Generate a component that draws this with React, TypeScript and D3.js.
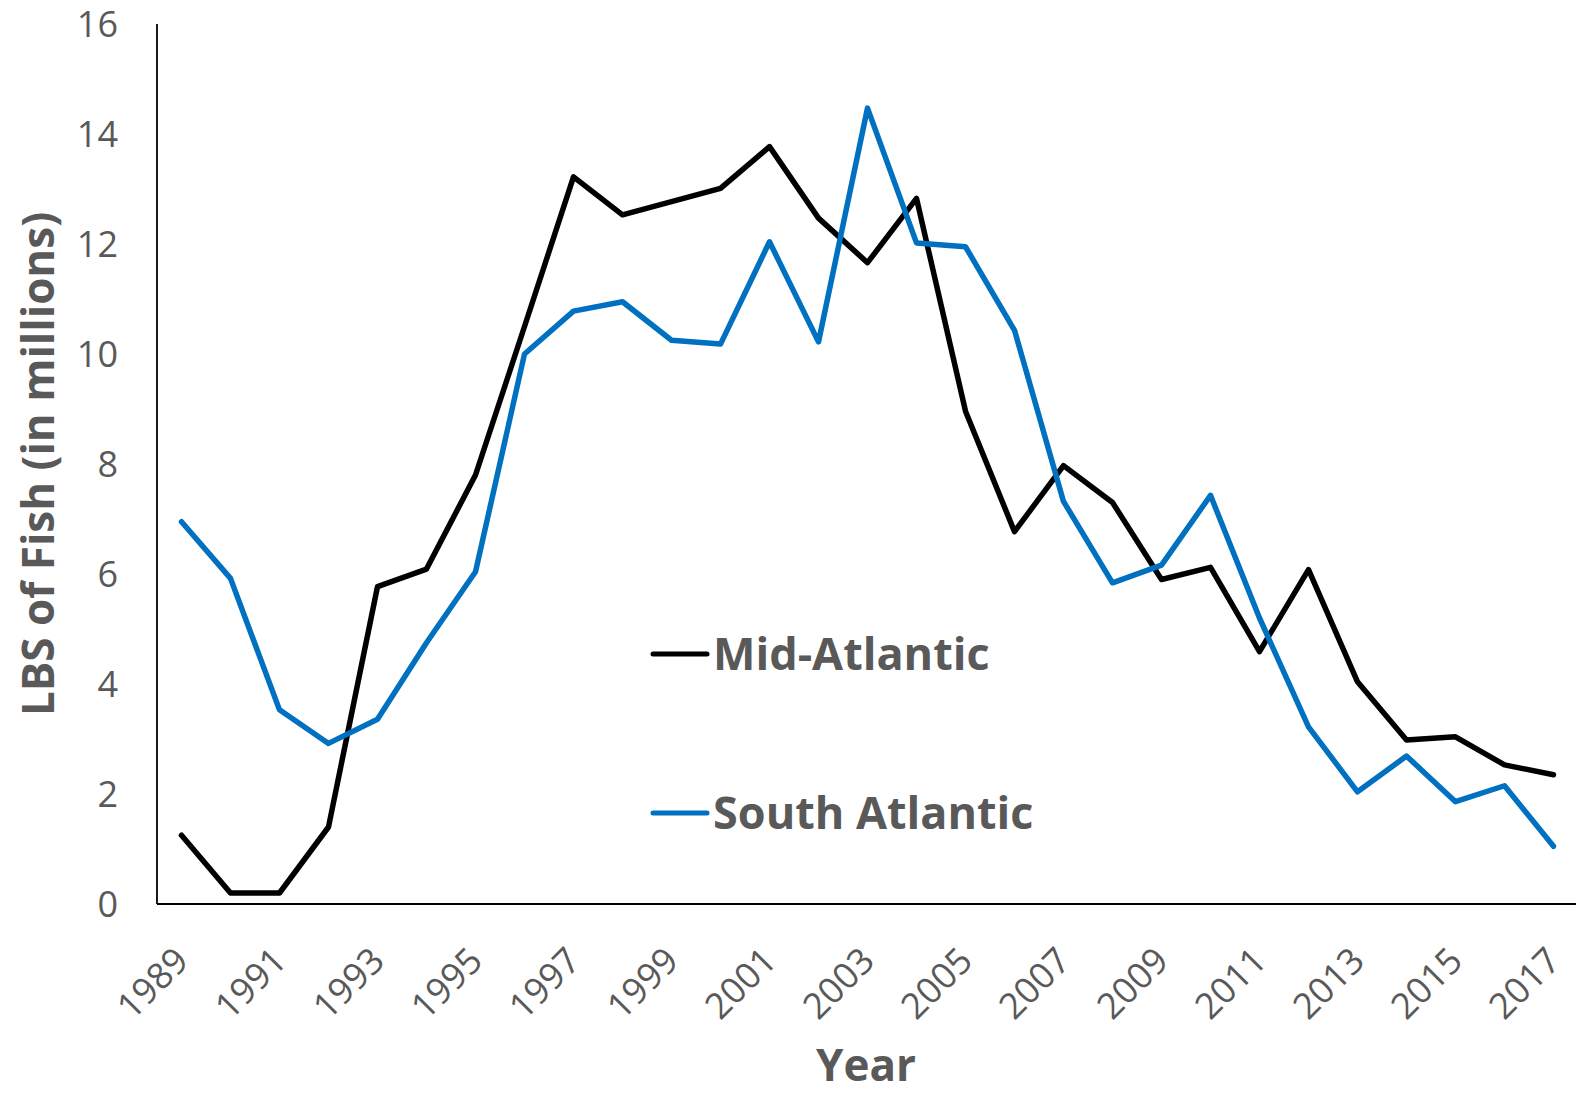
import React from "react";
import * as d3 from "d3";

const years: number[] = [1989,1990,1991,1992,1993,1994,1995,1996,1997,1998,1999,2000,2001,2002,2003,2004,2005,2006,2007,2008,2009,2010,2011,2012,2013,2014,2015,2016,2017];
const midAtlantic: number[] = [1.25,0.2,0.2,1.4,5.77,6.09,7.8,10.5,13.22,12.53,12.77,13.01,13.77,12.47,11.66,12.83,8.96,6.77,7.97,7.3,5.9,6.12,4.59,6.08,4.04,2.98,3.04,2.53,2.35];
const southAtlantic: number[] = [6.95,5.92,3.53,2.92,3.36,4.75,6.04,10.0,10.78,10.95,10.25,10.18,12.04,10.22,14.47,12.02,11.95,10.43,7.32,5.84,6.16,7.43,5.2,3.22,2.04,2.69,1.86,2.15,1.05];
const yTicks: number[] = [0,2,4,6,8,10,12,14,16];
const xTickYears: number[] = years.filter((y) => (y - 1989) % 2 === 0);
const seriesNames: string[] = ["Mid-Atlantic", "South Atlantic"];
const seriesColors: string[] = ["#000000", "#0070C0"];

const W = 1576, H = 1094;
const left = 157, right = 1578, top = 24, bottom = 904;
const FONT = "'Open Sans', 'Noto Sans', sans-serif";
const TXT = "#595959";

export default function App() {
  const x = d3.scaleBand<number>().domain(years).range([left, right]);
  const cx = (yr: number) => (x(yr) as number) + x.bandwidth() / 2;
  const y = d3.scaleLinear().domain([0, 16]).range([bottom, top]);
  const line = d3.line<number>().x((_, i) => cx(years[i])).y((v) => y(v));
  const series = [midAtlantic, southAtlantic];
  const legendY = [654, 813];
  return (
    <svg width={W} height={H} style={{ position: "absolute", left: 0, top: 0, background: "#fff" }}>
      <rect x={0} y={0} width={W} height={H} fill="#fff" />
      {yTicks.map((t) => (
        <text key={t} x={118} y={y(t)} dy="0.36em" textAnchor="end" fontFamily={FONT} fontSize={36} fill={TXT}>{t}</text>
      ))}
      {xTickYears.map((yr) => (
        <text key={yr} transform={`translate(${cx(yr) + 9},${963}) rotate(-45)`} textAnchor="end" fontFamily={FONT} fontSize={36} fill={TXT}>{yr}</text>
      ))}
      <line x1={left} x2={left} y1={top} y2={bottom} stroke="#000" strokeWidth={1.8} />
      <line x1={left} x2={W} y1={bottom} y2={bottom} stroke="#000" strokeWidth={1.8} />
      {series.map((s, i) => (
        <path key={i} d={line(s) || ""} fill="none" stroke={seriesColors[i]} strokeWidth={5.5} strokeLinejoin="round" strokeLinecap="round" />
      ))}
      {seriesNames.map((n, i) => (
        <g key={n}>
          <line x1={653} x2={707} y1={legendY[i]} y2={legendY[i]} stroke={seriesColors[i]} strokeWidth={5} strokeLinecap="round" />
          <text x={713} y={legendY[i] + 16} fontFamily={FONT} fontWeight="bold" fontSize={45} fill={TXT}>{n}</text>
        </g>
      ))}
      <text x={866} y={1081} textAnchor="middle" fontFamily={FONT} fontWeight="bold" fontSize={44} fill={TXT}>Year</text>
      <text transform={`translate(54,464) rotate(-90)`} textAnchor="middle" fontFamily={FONT} fontWeight="bold" fontSize={44} fill={TXT}>LBS of Fish (in millions)</text>
    </svg>
  );
}
